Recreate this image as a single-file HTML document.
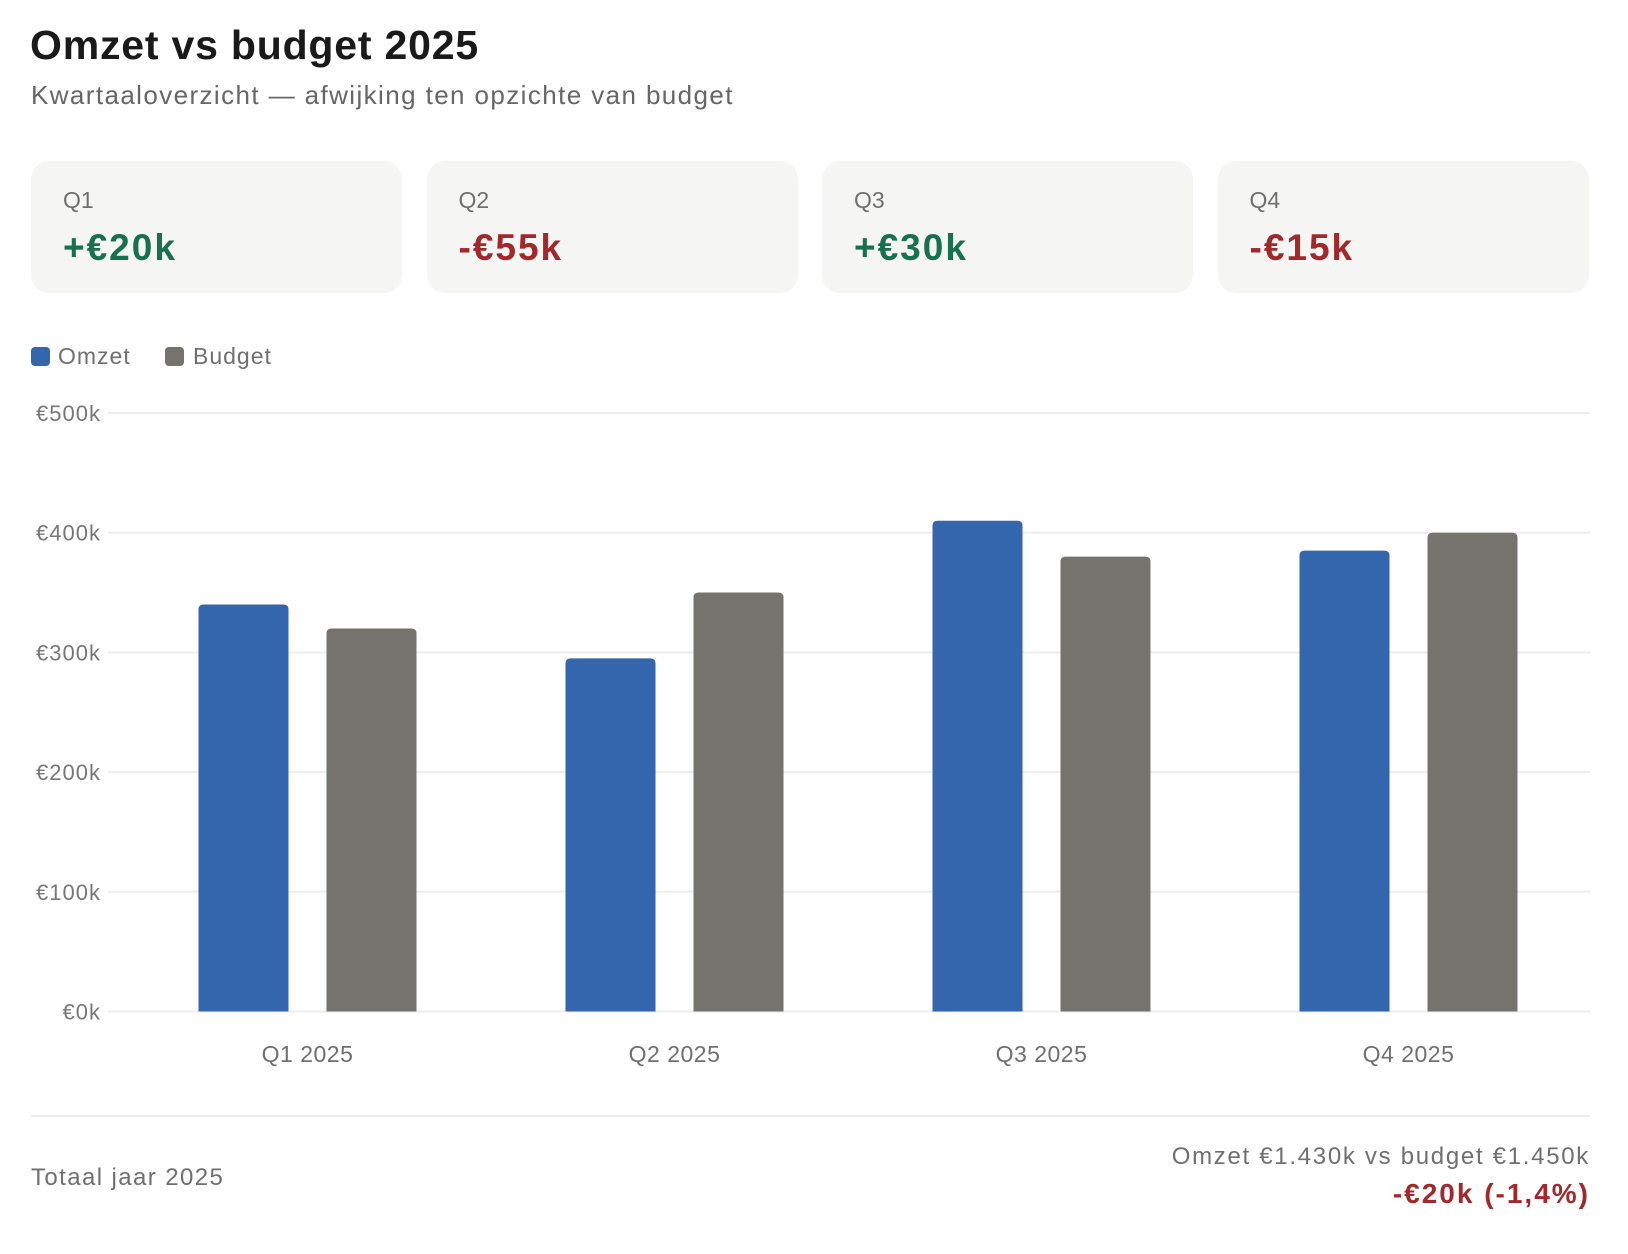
<!DOCTYPE html>
<html><head><meta charset="utf-8">
<style>
body{margin:0;width:1628px;height:1254px;background:#fff;font-family:"Liberation Sans",sans-serif;overflow:hidden;position:relative}
.t{position:absolute;white-space:nowrap}
.card{position:absolute;top:161px;width:371px;height:132px;background:#f5f5f3;border-radius:18px}
.card .l{position:absolute;left:32px;top:26px;font-size:23px;color:#6f6f6f}
.card .v{position:absolute;left:32px;top:66px;font-size:37px;font-weight:bold;letter-spacing:2px}
.g{color:#17704f}.r{color:#a3282b}
</style></head><body>
<div class="t" style="left:30px;top:22px;font-size:41px;font-weight:bold;color:#1a1a1a;letter-spacing:0.8px">Omzet vs budget 2025</div>
<div class="t" style="left:31px;top:80px;font-size:26px;color:#666;letter-spacing:1.4px">Kwartaaloverzicht — afwijking ten opzichte van budget</div>
<div class="card" style="left:31px"><div class="l">Q1</div><div class="v g">+€20k</div></div>
<div class="card" style="left:426.5px"><div class="l">Q2</div><div class="v r">-€55k</div></div>
<div class="card" style="left:822px"><div class="l">Q3</div><div class="v g">+€30k</div></div>
<div class="card" style="left:1217.5px"><div class="l">Q4</div><div class="v r">-€15k</div></div>
<div>
<div class="t" style="left:31px;top:347px;width:19px;height:19px;border-radius:4px;background:#3366ad"></div>
<div class="t" style="left:58px;top:343px;font-size:23px;color:#6f6f6f;letter-spacing:1px">Omzet</div>
<div class="t" style="left:165px;top:347px;width:19px;height:19px;border-radius:4px;background:#74736d"></div>
<div class="t" style="left:193px;top:343px;font-size:23px;color:#6f6f6f;letter-spacing:1px">Budget</div>
</div>
<svg id="chart" width="1628" height="1100" style="position:absolute;left:0;top:0"></svg>
<div class="t" style="left:31px;top:1115px;width:1559px;height:2px;background:#ececec"></div>
<div class="t" style="left:31px;top:1164px;font-size:24px;color:#6f6f6f;letter-spacing:1.4px">Totaal jaar 2025</div>
<div class="t" style="right:38px;top:1143px;font-size:24px;color:#6f6f6f;letter-spacing:1.7px">Omzet €1.430k vs budget €1.450k</div>
<div class="t r" style="right:38px;top:1178px;font-size:28px;font-weight:bold;letter-spacing:2px">-€20k (-1,4%)</div>
<script>
const categories=["Q1 2025","Q2 2025","Q3 2025","Q4 2025"];
const omzet=[340,295,410,385];
const budget=[320,350,380,400];
const yTicks=[0,100,200,300,400,500];
const yTickLabels=["€0k","€100k","€200k","€300k","€400k","€500k"];
const svg=document.getElementById('chart');
const NS='http://www.w3.org/2000/svg';
const y0=1011.5,y500=413,x0=124,band=367;
const y=v=>y0-(v/500)*(y0-y500);
const xc=i=>x0+band*(i+0.5);
function mk(t,a){const e=document.createElementNS(NS,t);for(const k in a)e.setAttribute(k,a[k]);svg.appendChild(e);return e;}
yTicks.forEach((v,i)=>{
 const l=mk('line',{x1:108,x2:1590,y1:y(v),y2:y(v),stroke:'#ededed','stroke-width':2});
 
 
 const t=mk('text',{x:101,y:y(v)+8,'text-anchor':'end','font-size':22,fill:'#777','font-family':'Liberation Sans','letter-spacing':1});
 t.textContent=yTickLabels[i];
 
 
});
function bar(x,v,c,name){
 const top=y(v),w=90,r=5;
 const p=mk('path',{d:`M${x},${y0}V${top+r}Q${x},${top} ${x+r},${top}H${x+w-r}Q${x+w},${top} ${x+w},${top+r}V${y0}Z`,fill:c});
 
 
}
categories.forEach((c,i)=>{
 bar(xc(i)-109,omzet[i],'#3366ad','bar-omzet-q'+(i+1));
 bar(xc(i)+19,budget[i],'#74736d','bar-budget-q'+(i+1));
 const t=mk('text',{x:xc(i),y:1062,'text-anchor':'middle','font-size':23,fill:'#6f6f6f','font-family':'Liberation Sans','letter-spacing':0.5});
 t.textContent=c;
 
 
});
</script>
</body></html>
